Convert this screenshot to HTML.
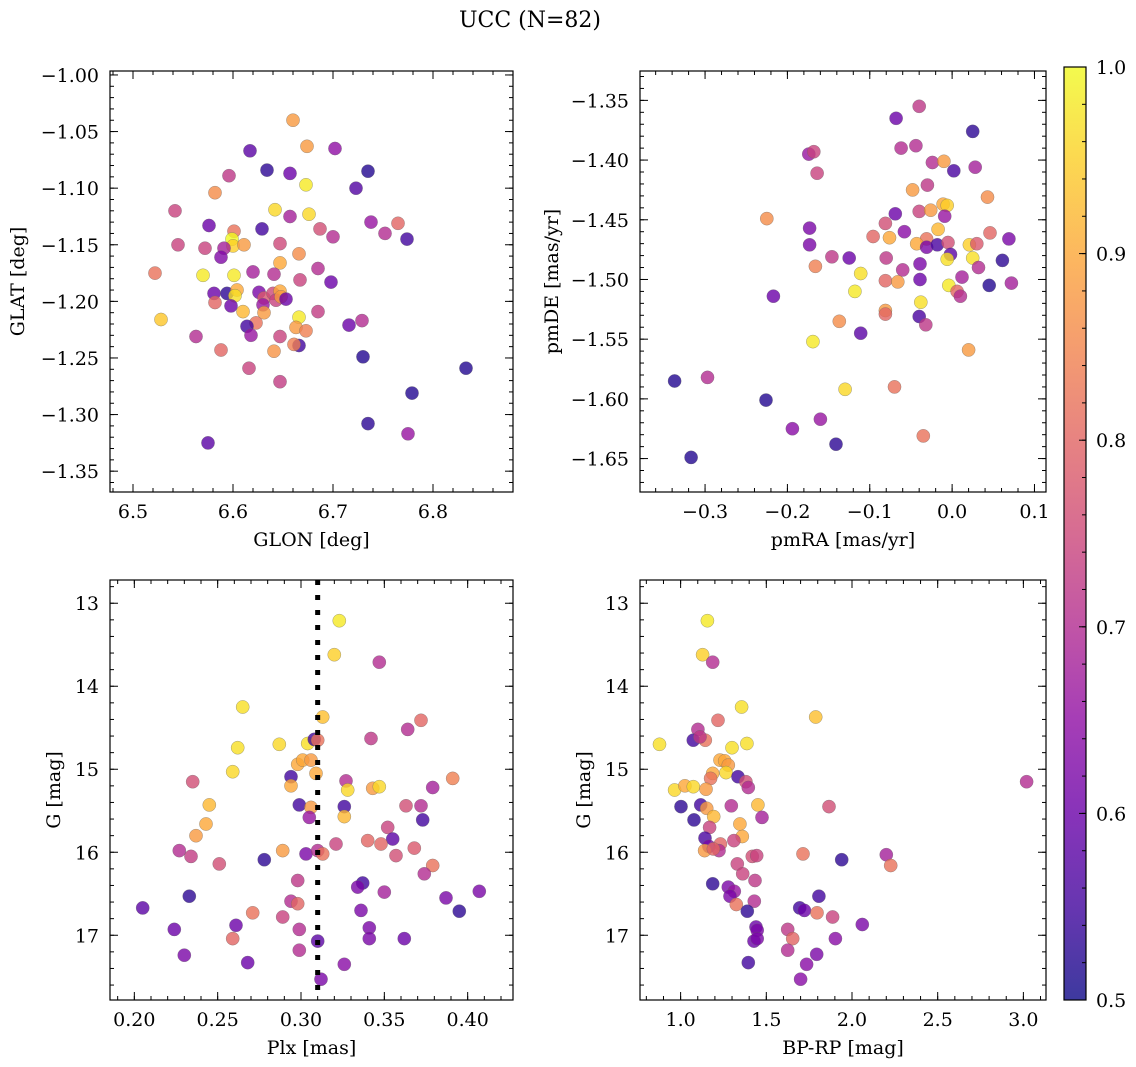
<!DOCTYPE html>
<html><head><meta charset="utf-8"><title>UCC (N=82)</title>
<style>
html,body{margin:0;padding:0;background:#fff;}
svg{display:block;font-family:"DejaVu Serif","Liberation Serif",serif;}
</style></head>
<body>
<svg id="fig" width="1136" height="1067" viewBox="0 0 1136 1067" xmlns="http://www.w3.org/2000/svg">
<defs>
<linearGradient id="plasmaGrad" x1="0" y1="1" x2="0" y2="0">
<stop offset="0" stop-color="#0d0887"/><stop offset="0.1" stop-color="#41049d"/><stop offset="0.2" stop-color="#6a00a8"/><stop offset="0.3" stop-color="#8f0da4"/><stop offset="0.4" stop-color="#b12a90"/><stop offset="0.5" stop-color="#cc4778"/><stop offset="0.6" stop-color="#e16462"/><stop offset="0.7" stop-color="#f2844b"/><stop offset="0.8" stop-color="#fca636"/><stop offset="0.9" stop-color="#fcce25"/><stop offset="1" stop-color="#f0f921"/>
</linearGradient>
</defs>
<text x="530" y="27" font-size="22" text-anchor="middle">UCC (N=82)</text>
</svg>
<script>
// ---------- data ----------
const glon = [6.660,6.674,6.702,6.617,6.634,6.657,6.735,6.596,6.673,6.582,6.723,6.542,6.642,6.657,6.676,6.576,6.629,6.601,6.687,6.700,6.738,6.765,6.752,6.774,6.545,6.572,6.599,6.600,6.611,6.591,6.588,6.647,6.666,6.647,6.522,6.570,6.601,6.620,6.641,6.685,6.667,6.698,6.581,6.594,6.604,6.602,6.626,6.631,6.640,6.647,6.643,6.648,6.653,6.582,6.598,6.630,6.610,6.631,6.685,6.528,6.666,6.716,6.729,6.623,6.614,6.618,6.563,6.647,6.663,6.673,6.588,6.641,6.666,6.661,6.730,6.833,6.616,6.647,6.779,6.735,6.775,6.575];
const glat = [-1.040,-1.063,-1.065,-1.067,-1.084,-1.087,-1.085,-1.089,-1.097,-1.104,-1.100,-1.120,-1.119,-1.125,-1.123,-1.133,-1.136,-1.138,-1.136,-1.143,-1.130,-1.131,-1.140,-1.145,-1.150,-1.153,-1.145,-1.151,-1.150,-1.153,-1.161,-1.149,-1.158,-1.166,-1.175,-1.177,-1.177,-1.174,-1.176,-1.171,-1.181,-1.183,-1.193,-1.193,-1.190,-1.195,-1.192,-1.197,-1.193,-1.191,-1.199,-1.196,-1.198,-1.201,-1.204,-1.203,-1.209,-1.210,-1.209,-1.216,-1.214,-1.221,-1.217,-1.219,-1.222,-1.230,-1.231,-1.231,-1.223,-1.226,-1.243,-1.244,-1.239,-1.238,-1.249,-1.259,-1.259,-1.271,-1.281,-1.308,-1.317,-1.325];
const prob1 = [0.88,0.88,0.65,0.58,0.53,0.60,0.52,0.72,0.98,0.86,0.57,0.74,0.96,0.68,0.96,0.60,0.55,0.82,0.76,0.70,0.66,0.80,0.70,0.55,0.74,0.74,1.00,0.95,0.88,0.68,0.63,0.75,0.86,0.90,0.82,0.98,0.98,0.68,0.70,0.70,0.74,0.60,0.60,0.53,0.90,0.97,0.62,0.78,0.75,0.90,0.74,0.88,0.60,0.80,0.60,0.66,0.92,0.88,0.73,0.94,0.98,0.60,0.70,0.82,0.55,0.66,0.70,0.74,0.88,0.84,0.80,0.87,0.55,0.84,0.52,0.52,0.74,0.73,0.52,0.53,0.66,0.58];

const pmra = [-0.040,-0.068,0.025,-0.062,-0.044,-0.174,-0.168,-0.164,-0.024,-0.010,0.002,0.028,-0.030,-0.048,0.043,-0.225,-0.069,-0.040,-0.026,-0.011,-0.006,-0.009,-0.173,-0.081,-0.058,-0.017,-0.096,-0.076,-0.031,0.046,0.069,-0.173,-0.043,-0.031,-0.018,-0.005,0.021,0.030,-0.146,-0.125,-0.080,-0.002,-0.006,0.025,0.061,-0.166,-0.039,-0.060,0.032,-0.111,0.012,-0.081,-0.066,-0.039,-0.004,0.045,0.072,-0.118,0.006,0.010,-0.217,-0.038,-0.081,-0.081,-0.040,-0.032,-0.137,-0.111,-0.169,0.020,-0.337,-0.297,-0.130,-0.070,-0.226,-0.160,-0.194,-0.035,-0.141,-0.317];
const pmde = [-1.355,-1.365,-1.376,-1.390,-1.388,-1.395,-1.393,-1.411,-1.402,-1.401,-1.409,-1.406,-1.421,-1.425,-1.431,-1.449,-1.445,-1.443,-1.442,-1.437,-1.438,-1.447,-1.457,-1.453,-1.460,-1.458,-1.464,-1.465,-1.466,-1.461,-1.466,-1.471,-1.470,-1.473,-1.471,-1.469,-1.471,-1.470,-1.481,-1.482,-1.482,-1.479,-1.483,-1.482,-1.484,-1.489,-1.487,-1.492,-1.490,-1.495,-1.498,-1.501,-1.502,-1.500,-1.505,-1.505,-1.503,-1.510,-1.510,-1.514,-1.514,-1.519,-1.526,-1.529,-1.531,-1.538,-1.535,-1.545,-1.552,-1.559,-1.585,-1.582,-1.592,-1.590,-1.601,-1.617,-1.625,-1.631,-1.638,-1.649];
const prob2 = [0.72,0.60,0.53,0.70,0.70,0.66,0.74,0.74,0.70,0.88,0.56,0.68,0.72,0.88,0.86,0.86,0.60,0.74,0.88,0.90,0.95,0.66,0.62,0.76,0.64,0.92,0.80,0.90,0.82,0.80,0.62,0.62,0.90,0.62,0.56,0.76,0.95,0.78,0.72,0.60,0.72,0.58,0.97,0.97,0.53,0.84,0.62,0.70,0.70,0.97,0.68,0.80,0.88,0.60,0.98,0.52,0.68,0.98,0.80,0.70,0.60,0.97,0.88,0.80,0.56,0.72,0.86,0.58,0.98,0.88,0.52,0.70,0.96,0.82,0.52,0.66,0.64,0.82,0.53,0.52];

const plx = [0.323,0.320,0.347,0.265,0.313,0.372,0.364,0.262,0.287,0.304,0.308,0.310,0.342,0.259,0.298,0.301,0.306,0.309,0.235,0.294,0.294,0.327,0.328,0.343,0.347,0.379,0.391,0.245,0.299,0.306,0.326,0.305,0.326,0.363,0.372,0.373,0.243,0.237,0.352,0.355,0.340,0.348,0.321,0.368,0.357,0.227,0.234,0.251,0.278,0.289,0.303,0.310,0.313,0.379,0.374,0.298,0.337,0.334,0.350,0.233,0.387,0.407,0.294,0.298,0.205,0.271,0.289,0.336,0.395,0.224,0.261,0.299,0.341,0.259,0.310,0.341,0.362,0.230,0.299,0.268,0.326,0.312];
const gmag3 = [13.21,13.62,13.71,14.25,14.37,14.41,14.52,14.74,14.70,14.69,14.64,14.65,14.63,15.03,14.94,14.89,14.89,15.05,15.15,15.09,15.20,15.14,15.25,15.23,15.21,15.22,15.11,15.43,15.43,15.46,15.45,15.58,15.57,15.44,15.44,15.61,15.66,15.80,15.70,15.84,15.86,15.90,15.90,15.95,16.04,15.98,16.05,16.14,16.09,15.98,16.02,15.98,16.02,16.16,16.26,16.34,16.37,16.42,16.48,16.53,16.55,16.47,16.59,16.62,16.67,16.73,16.78,16.70,16.71,16.93,16.88,16.93,16.91,17.04,17.07,17.04,17.04,17.24,17.18,17.33,17.35,17.53];
const prob3 = [0.98,0.95,0.70,0.97,0.93,0.80,0.70,0.97,0.96,0.97,0.55,0.82,0.72,0.96,0.90,0.90,0.88,0.90,0.76,0.55,0.90,0.70,0.96,0.88,0.96,0.68,0.84,0.92,0.55,0.88,0.55,0.66,0.92,0.76,0.70,0.55,0.90,0.88,0.74,0.58,0.80,0.80,0.74,0.78,0.76,0.70,0.73,0.76,0.53,0.88,0.62,0.70,0.82,0.82,0.70,0.72,0.55,0.62,0.68,0.53,0.62,0.62,0.70,0.80,0.58,0.82,0.74,0.62,0.53,0.60,0.60,0.70,0.62,0.80,0.58,0.62,0.60,0.62,0.70,0.60,0.64,0.62];
const plxRef = [0.310];

const bprp = [1.156,1.128,1.187,1.356,1.788,1.218,1.101,0.877,1.300,1.387,1.074,1.144,1.113,1.230,1.257,1.278,1.265,1.187,1.175,1.335,1.381,1.395,3.019,0.965,1.025,1.074,1.148,1.002,1.117,1.152,1.296,1.451,1.866,1.078,1.193,1.475,1.169,1.346,1.142,1.360,1.311,1.232,1.165,1.140,1.224,1.191,1.418,1.444,1.714,1.940,2.200,2.226,1.331,1.362,1.434,1.187,1.278,1.313,1.288,1.807,1.430,1.325,1.695,1.722,1.796,1.389,1.887,2.060,1.440,1.447,1.625,1.654,1.428,1.447,1.903,1.625,1.794,1.395,1.735,1.700];
const gmag4 = [13.21,13.62,13.71,14.25,14.37,14.41,14.52,14.70,14.74,14.69,14.65,14.65,14.61,14.89,14.90,14.95,15.04,15.05,15.11,15.09,15.15,15.22,15.15,15.25,15.20,15.21,15.24,15.45,15.43,15.47,15.44,15.43,15.45,15.61,15.57,15.58,15.70,15.66,15.83,15.81,15.86,15.90,15.93,15.98,15.98,15.96,16.05,16.04,16.02,16.09,16.03,16.16,16.14,16.26,16.34,16.38,16.42,16.47,16.53,16.53,16.59,16.63,16.67,16.70,16.73,16.71,16.78,16.87,16.90,16.94,16.93,17.04,17.07,17.04,17.04,17.18,17.23,17.33,17.35,17.53];
const prob4 = [0.98,0.95,0.70,0.97,0.93,0.80,0.70,0.97,0.97,0.97,0.55,0.82,0.72,0.90,0.90,0.88,0.96,0.90,0.82,0.55,0.76,0.70,0.70,0.96,0.90,0.96,0.88,0.53,0.55,0.88,0.70,0.92,0.76,0.53,0.92,0.68,0.74,0.90,0.56,0.90,0.74,0.80,0.62,0.88,0.70,0.80,0.76,0.74,0.82,0.53,0.68,0.82,0.74,0.74,0.72,0.53,0.62,0.66,0.62,0.55,0.70,0.82,0.55,0.60,0.82,0.53,0.74,0.62,0.60,0.62,0.72,0.80,0.60,0.62,0.64,0.70,0.62,0.55,0.64,0.64];

const cbarTicks = [0.5,0.6,0.7,0.8,0.9,1.0];

// ---------- rendering ----------
const NS = "http://www.w3.org/2000/svg";
const svg = document.getElementById('fig');
const FS = 19;
function mk(tag, attrs, parent){
  const e = document.createElementNS(NS, tag);
  for (const k in attrs) e.setAttribute(k, attrs[k]);
  (parent||svg).appendChild(e);
  return e;
}
const stops = [[0,[13,8,135]],[0.1,[65,4,157]],[0.2,[106,0,168]],[0.3,[143,13,164]],[0.4,[177,42,144]],[0.5,[204,71,120]],[0.6,[225,100,98]],[0.7,[242,132,75]],[0.8,[252,166,54]],[0.9,[252,206,37]],[1,[240,249,33]]];
function plasma(t){
  t = Math.max(0, Math.min(1, t));
  for (let i=0;i<stops.length-1;i++){
    const [a,ca]=stops[i],[b,cb]=stops[i+1];
    if (t<=b){ const f=(t-a)/(b-a);
      return 'rgb('+ca.map((v,j)=>Math.round(v+(cb[j]-v)*f)).join(',')+')'; }
  }
  return 'rgb(240,249,33)';
}
function lin(d0,d1,r0,r1){ return v => r0 + (v-d0)/(d1-d0)*(r1-r0); }
function fmt(v,dec){ const s=Math.abs(v).toFixed(dec); return (v<-1e-9?'\u2212':'')+s; }
function range(a,b,step){ const out=[]; const n=Math.round((b-a)/step); for(let i=0;i<=n;i++) out.push(+(a+i*step).toFixed(6)); return out; }

function panel(cfg){
  const g = mk('g', {});
  
  
  const {x0,y0,x1,y1} = cfg;
  const sx = lin(cfg.xd[0], cfg.xd[1], x0, x1);
  const sy = lin(cfg.yd[0], cfg.yd[1], y0, y1);
  const cid = 'clip-'+cfg.name;
  const cp = mk('clipPath', {id:cid}, g); mk('rect',{x:x0,y:y0,width:x1-x0,height:y1-y0},cp);
  const pts = mk('g', {'clip-path':'url(#'+cid+')'}, g);
  
  
  for (let i=0;i<cfg.xs.length;i++){
    const c = mk('circle',{cx:sx(cfg.xs[i]).toFixed(1),cy:sy(cfg.ys[i]).toFixed(1),r:6.6,fill:plasma((cfg.cs[i]-0.5)/0.5),'fill-opacity':0.8,stroke:'#666','stroke-width':0.5,'stroke-opacity':0.6}, pts);
    
    
  }
  if (cfg.vline){
    const vl = mk('line',{x1:sx(cfg.vline[0]),x2:sx(cfg.vline[0]),y1:y0,y2:y1,stroke:'#000','stroke-width':5,'stroke-dasharray':'5 10'}, pts);
    
    
  }
  const fr = mk('rect',{x:x0,y:y0,width:x1-x0,height:y1-y0,fill:'none',stroke:'#000','stroke-width':1.2}, g);
  
  
  const tk = mk('g',{stroke:'#000','stroke-width':1}, g);
  
  
  cfg.xminor.forEach(v=>{ const X=sx(v); if(X<x0||X>x1) return;
    mk('line',{x1:X,x2:X,y1:y1,y2:y1-4},tk); mk('line',{x1:X,x2:X,y1:y0,y2:y0+4},tk); });
  cfg.yminor.forEach(v=>{ const Y=sy(v); if(Y<y0||Y>y1) return;
    mk('line',{x1:x0,x2:x0+4,y1:Y,y2:Y},tk); mk('line',{x1:x1,x2:x1-4,y1:Y,y2:Y},tk); });
  cfg.xmajor.forEach(v=>{ const X=sx(v);
    mk('line',{x1:X,x2:X,y1:y1,y2:y1-8},tk); mk('line',{x1:X,x2:X,y1:y0,y2:y0+8},tk);
    const t = mk('text',{x:X,y:y1+26,'font-size':FS,'text-anchor':'middle',fill:'#000'}, g);
    t.textContent = fmt(v,cfg.xdec);
    
    
  });
  cfg.ymajor.forEach(v=>{ const Y=sy(v);
    mk('line',{x1:x0,x2:x0+8,y1:Y,y2:Y},tk); mk('line',{x1:x1,x2:x1-8,y1:Y,y2:Y},tk);
    const t = mk('text',{x:x0-11,y:Y+7,'font-size':FS,'text-anchor':'end',fill:'#000'}, g);
    t.textContent = fmt(v,cfg.ydec);
    
    
  });
  const xl = mk('text',{x:(x0+x1)/2,y:y1+54,'font-size':FS,'text-anchor':'middle'}, g);
  xl.textContent = cfg.xlabel;
  
  
  const yl = mk('text',{x:0,y:0,'font-size':FS,'text-anchor':'middle',transform:'translate('+cfg.ylx+','+((y0+y1)/2)+') rotate(-90)'}, g);
  yl.textContent = cfg.ylabel;
  
  
}

panel({name:'glon-glat-panel',x0:110,y0:71,x1:513,y1:492,xd:[6.477,6.880],yd:[-0.9965,-1.3684],
  xs:glon,ys:glat,cs:prob1,xmajor:range(6.5,6.8,0.1),xminor:range(6.48,6.88,0.02),xdec:1,
  ymajor:range(-1.35,-1.00,0.05),yminor:range(-1.37,-1.00,0.01),ydec:2,xlabel:'GLON [deg]',ylabel:'GLAT [deg]',ylx:24});
panel({name:'pm-panel',x0:640,y0:71,x1:1046,y1:492,xd:[-0.379,0.114],yd:[-1.3254,-1.678],
  xs:pmra,ys:pmde,cs:prob2,xmajor:range(-0.3,0.1,0.1),xminor:range(-0.38,0.12,0.02),xdec:1,
  ymajor:range(-1.65,-1.35,0.05),yminor:range(-1.67,-1.33,0.01),ydec:2,xlabel:'pmRA [mas/yr]',ylabel:'pmDE [mas/yr]',ylx:558});
panel({name:'plx-g-panel',x0:110,y0:580,x1:513,y1:1000,xd:[0.1854,0.4272],yd:[12.72,17.78],
  xs:plx,ys:gmag3,cs:prob3,vline:plxRef,xmajor:range(0.20,0.40,0.05),xminor:range(0.19,0.42,0.01),xdec:2,
  ymajor:range(13,17,1),yminor:range(12.8,17.8,0.2),ydec:0,xlabel:'Plx [mas]',ylabel:'G [mag]',ylx:60});
panel({name:'cmd-panel',x0:640,y0:580,x1:1046,y1:1000,xd:[0.763,3.132],yd:[12.72,17.78],
  xs:bprp,ys:gmag4,cs:prob4,xmajor:range(1.0,3.0,0.5),xminor:range(0.8,3.1,0.1),xdec:1,
  ymajor:range(13,17,1),yminor:range(12.8,17.8,0.2),ydec:0,xlabel:'BP-RP [mag]',ylabel:'G [mag]',ylx:590});

const cb = mk('g',{});


const cy = lin(0.5,1.0,1000,67);
mk('rect',{x:1064,y:67,width:22,height:933,fill:'url(#plasmaGrad)','fill-opacity':0.8},cb);
mk('rect',{x:1064,y:67,width:22,height:933,fill:'none',stroke:'#000','stroke-width':1.2},cb);
range(0.5,1.0,0.02).forEach(v=>{ mk('line',{x1:1086,x2:1082,y1:cy(v),y2:cy(v),stroke:'#000','stroke-width':1},cb); });
cbarTicks.forEach(v=>{
  mk('line',{x1:1086,x2:1079,y1:cy(v),y2:cy(v),stroke:'#000','stroke-width':1},cb);
  const t = mk('text',{x:1096,y:cy(v)+7,'font-size':FS},cb);
  t.textContent = v.toFixed(1);
  
  
});
</script>
</body></html>
